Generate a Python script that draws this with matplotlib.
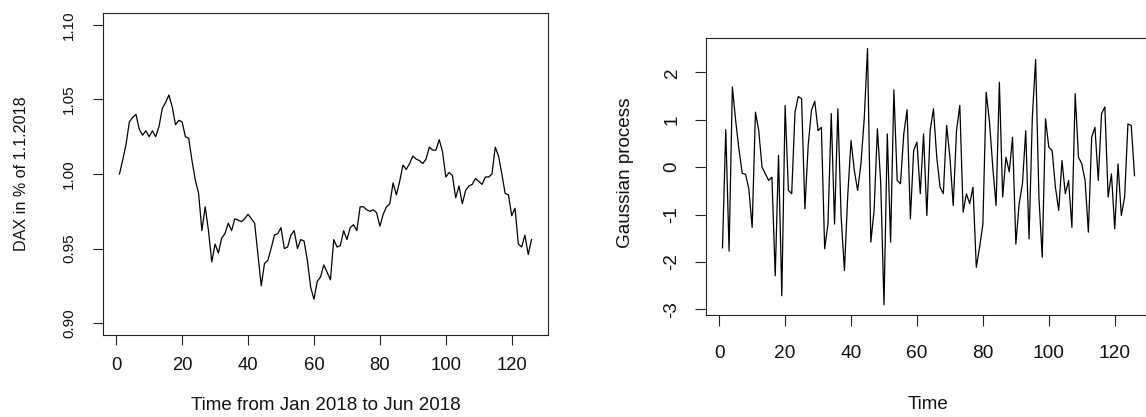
import matplotlib
matplotlib.use("Agg")
import matplotlib.pyplot as plt
import numpy as np

plt.rcParams['font.family'] = ['Liberation Sans', 'DejaVu Sans']

dax = [1.000, 1.0096, 1.020, 1.035, 1.038, 1.040, 1.030, 1.026, 1.029, 1.025,
       1.029, 1.025, 1.032, 1.044, 1.048, 1.053, 1.045, 1.033, 1.036, 1.035,
       1.025, 1.024, 1.009, 0.996, 0.987, 0.962, 0.978, 0.962, 0.941, 0.953,
       0.947, 0.957, 0.960, 0.967, 0.962, 0.970, 0.969, 0.968, 0.970, 0.973,
       0.970, 0.967, 0.946, 0.925, 0.940, 0.942, 0.950, 0.959, 0.960, 0.964,
       0.950, 0.951, 0.959, 0.962, 0.950, 0.956, 0.955, 0.942, 0.924, 0.916,
       0.928, 0.931, 0.939, 0.934, 0.929, 0.956, 0.951, 0.952, 0.962, 0.956,
       0.964, 0.966, 0.962, 0.978, 0.978, 0.976, 0.975, 0.976, 0.974, 0.965,
       0.973, 0.978, 0.980, 0.994, 0.986, 0.995, 1.006, 1.003, 1.007, 1.012,
       1.010, 1.009, 1.007, 1.010, 1.018, 1.016, 1.016, 1.023, 1.015, 0.998,
       1.001, 0.999, 0.984, 0.992, 0.980, 0.989, 0.992, 0.993, 0.997, 0.995,
       0.993, 0.998, 0.998, 1.000, 1.018, 1.012, 1.000, 0.987, 0.986, 0.972,
       0.977, 0.953, 0.951, 0.959, 0.946, 0.956]

gauss = [-1.70, 0.79, -1.77, 1.69, 0.98, 0.37, -0.13, -0.15, -0.46, -1.27,
         1.16, 0.77, 0.00, -0.14, -0.28, -0.21, -2.29, 0.25, -2.71, 1.30,
         -0.49, -0.56, 1.16, 1.49, 1.44, -0.88, 0.46, 1.20, 1.39, 0.77,
         0.84, -1.72, -1.20, 1.13, -1.20, 1.23, -1.05, -2.18, -0.60, 0.56,
         -0.07, -0.49, 0.07, 1.02, 2.50, -1.58, -0.91, 0.81, -0.32, -2.90,
         0.70, -1.58, 1.63, -0.28, -0.35, 0.70, 1.21, -1.09, 0.35, 0.53,
         -0.56, 0.70, -1.02, 0.77, 1.23, 0.21, -0.42, -0.56, 0.88, 0.21,
         -0.81, 0.77, 1.30, -0.95, -0.56, -0.77, -0.42, -2.11, -1.69, -1.20,
         1.58, 0.95, 0.00, -0.81, 1.79, -0.63, 0.21, -0.10, 0.63, -1.62,
         -0.77, -0.35, 0.77, -1.51, 1.05, 2.27, -0.63, -1.90, 1.02, 0.42,
         0.35, -0.42, -0.91, 0.14, -0.56, -0.28, -1.27, 1.55, 0.21, 0.07,
         -0.28, -1.37, 0.63, 0.84, -0.28, 1.13, 1.27, -0.63, -0.14, -1.30,
         0.07, -1.02, -0.63, 0.91, 0.88, -0.18]

x_ticks = [0, 20, 40, 60, 80, 100, 120]
dax_ticks = [0.90, 0.95, 1.00, 1.05, 1.10]
dax_ticklabels = ["0.90", "0.95", "1.00", "1.05", "1.10"]
gauss_ticks = [-3, -2, -1, 0, 1, 2]
gauss_ticklabels = ["-3", "-2", "-1", "0", "1", "2"]

W, H = 1146, 417
DPI = 100
fig = plt.figure(figsize=(W / DPI, H / DPI), dpi=DPI)
fig.patch.set_facecolor('white')

def px_axes(x0, x1, ytop, ybot):
    return fig.add_axes([x0 / W, (H - ybot) / H, (x1 - x0) / W, (ybot - ytop) / H])

def r_range(lo, hi):
    d = (hi - lo) * 0.04
    return lo - d, hi + d

PX = 72.0 / DPI  # points per pixel
TXT = '#111111'

def style(ax, tick_len_px, xpad_px, ypad_px, xfs, yfs):
    for s in ax.spines.values():
        s.set_linewidth(0.8)
        s.set_color('#222222')
    ax.tick_params(axis='both', direction='out', length=tick_len_px * PX,
                   width=0.8, color='#222222', labelcolor=TXT)
    ax.tick_params(axis='x', pad=xpad_px * PX, labelsize=xfs)
    ax.tick_params(axis='y', pad=ypad_px * PX, labelsize=yfs)
    for lab in ax.get_xticklabels():
        lab.set_va('center')
    for lab in ax.get_yticklabels():
        lab.set_rotation(90)
        lab.set_va('center')
        lab.set_ha('center')

# Left panel: DAX
t1 = np.arange(1, len(dax) + 1)
ax1 = px_axes(103, 548, 13, 335)
ax1.plot(t1, dax, color='black', linewidth=0.9)
ax1.set_xlim(*r_range(1, len(dax)))
ax1.set_ylim(*r_range(0.90, 1.10))
ax1.set_xticks(x_ticks)
ax1.set_xticklabels([str(v) for v in x_ticks])
ax1.set_yticks(dax_ticks)
ax1.set_yticklabels(dax_ticklabels)
style(ax1, 10, 21, 24, 13.3, 11.0)
fig.text(325.5 / W, 1 - 406 / H, "Time from Jan 2018 to Jun 2018", ha='center', va='center',
         fontsize=13.5, color=TXT)
fig.text(22 / W, 1 - 174 / H, "DAX in % of 1.1.2018", ha='center', va='center',
         rotation=90, fontsize=11.6, color=TXT)

# Right panel: Gaussian process
t2 = np.arange(1, len(gauss) + 1)
ax2 = px_axes(706, 1151, 38.3, 315)
ax2.plot(t2, gauss, color='black', linewidth=0.9)
ax2.set_xlim(*r_range(1, len(gauss)))
ax2.set_ylim(*r_range(min(gauss), max(gauss)))
ax2.set_xticks(x_ticks)
ax2.set_xticklabels([str(v) for v in x_ticks])
ax2.set_yticks(gauss_ticks)
ax2.set_yticklabels(gauss_ticklabels)
style(ax2, 11, 28, 23, 13.8, 13.5)
fig.text(928 / W, 1 - 404.5 / H, "Time", ha='center', va='center',
         fontsize=13.6, color=TXT)
fig.text(626 / W, 1 - 173 / H, "Gaussian process", ha='center', va='center',
         rotation=90, fontsize=13.6, color=TXT)

fig.savefig("out.png", dpi=DPI, facecolor='white')
